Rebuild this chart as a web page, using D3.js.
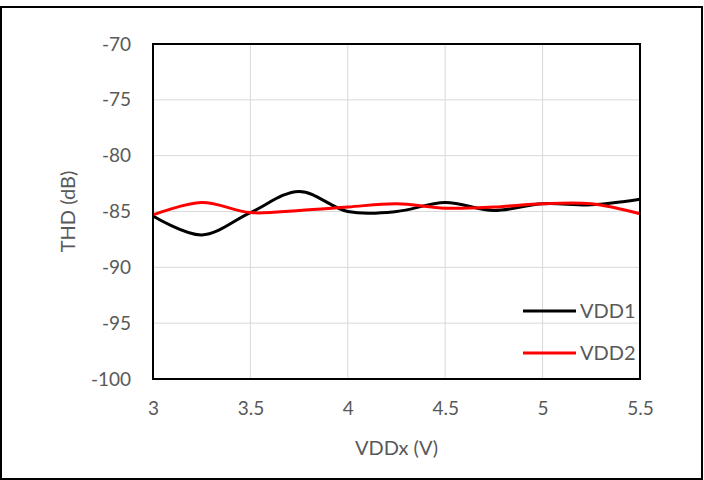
<!DOCTYPE html>
<html>
<head>
<meta charset="UTF-8">
<script src="https://d3js.org/d3.v7.min.js"></script>
<style>
  body { margin: 0; background: #fff; }
  text { font-family: Lato, "Open Sans", sans-serif; fill: #595959; }
</style>
</head>
<body>
<svg width="704" height="480"></svg>
<script>
// data
var vdd = [3, 3.25, 3.5, 3.75, 4, 4.25, 4.5, 4.75, 5, 5.25, 5.5];
var vdd1 = [-85.4, -87.1, -85.1, -83.2, -85.0, -85.0, -84.2, -84.9, -84.3, -84.4, -83.9];
var vdd2 = [-85.3, -84.2, -85.1, -84.9, -84.6, -84.3, -84.7, -84.6, -84.3, -84.3, -85.2];
var xTicks = [3, 3.5, 4, 4.5, 5, 5.5];
var yTicks = [-70, -75, -80, -85, -90, -95, -100];
var seriesNames = ["VDD1", "VDD2"];
var colors = ["#000000", "#ff0000"];

var svg = d3.select("svg");
var pLeft = 153, pTop = 44, pRight = 640, pBottom = 379;

// outer frame
svg.append("rect")
  .attr("x", 1).attr("y", 7).attr("width", 701).attr("height", 472)
  .attr("fill", "none").attr("stroke", "#000").attr("stroke-width", 2);

var x = d3.scaleLinear().domain([3, 5.5]).range([pLeft, pRight]);
var y = d3.scaleLinear().domain([-100, -70]).range([pBottom, pTop]);

// grid
svg.append("g").selectAll("line").data(xTicks).enter().append("line")
  .attr("x1", d => x(d)).attr("x2", d => x(d))
  .attr("y1", pTop).attr("y2", pBottom)
  .attr("stroke", "#d9d9d9").attr("stroke-width", 1);
svg.append("g").selectAll("line").data(yTicks).enter().append("line")
  .attr("x1", pLeft).attr("x2", pRight)
  .attr("y1", d => y(d)).attr("y2", d => y(d))
  .attr("stroke", "#d9d9d9").attr("stroke-width", 1);

// tick labels (plain hyphen minus like the original)
var fmt = function(d) { return String(d); };
var xAxis = svg.append("g")
  .attr("transform", "translate(0," + pBottom + ")")
  .call(d3.axisBottom(x).tickValues(xTicks).tickSize(0).tickPadding(23).tickFormat(fmt));
var yAxis = svg.append("g")
  .attr("transform", "translate(" + pLeft + ",0)")
  .call(d3.axisLeft(y).tickValues(yTicks).tickSize(0).tickPadding(22).tickFormat(fmt));
[xAxis, yAxis].forEach(function(a) {
  a.select(".domain").remove();
  a.selectAll("text").attr("font-size", "19px").attr("fill", "#595959")
    .style("font-family", "Lato, 'Open Sans', sans-serif");
});

// series
var line = d3.line()
  .x(function(d) { return x(d[0]); })
  .y(function(d) { return y(d[1]); })
  .curve(d3.curveCatmullRom.alpha(0.5));

[vdd1, vdd2].forEach(function(s, i) {
  svg.append("path")
    .datum(vdd.map(function(v, j) { return [v, s[j]]; }))
    .attr("d", line)
    .attr("fill", "none")
    .attr("stroke", colors[i])
    .attr("stroke-width", 3);
});

// plot border
svg.append("rect")
  .attr("x", pLeft).attr("y", pTop).attr("width", pRight - pLeft).attr("height", pBottom - pTop)
  .attr("fill", "none").attr("stroke", "#000").attr("stroke-width", 2);

// axis titles
svg.append("text")
  .attr("x", (pLeft + pRight) / 2).attr("y", 455)
  .attr("text-anchor", "middle").attr("font-size", "20px")
  .text("VDDx (V)");
svg.append("text")
  .attr("transform", "translate(75," + ((pTop + pBottom) / 2) + ") rotate(-90)")
  .attr("text-anchor", "middle").attr("font-size", "20px")
  .text("THD (dB)");

// legend
var legend = svg.append("g");
seriesNames.forEach(function(n, i) {
  var ly = 311 + i * 42;
  legend.append("line")
    .attr("x1", 523).attr("x2", 576).attr("y1", ly).attr("y2", ly)
    .attr("stroke", colors[i]).attr("stroke-width", 3);
  legend.append("text")
    .attr("x", 580).attr("y", ly + 7)
    .attr("font-size", "20px")
    .text(n);
});
</script>
</body>
</html>
